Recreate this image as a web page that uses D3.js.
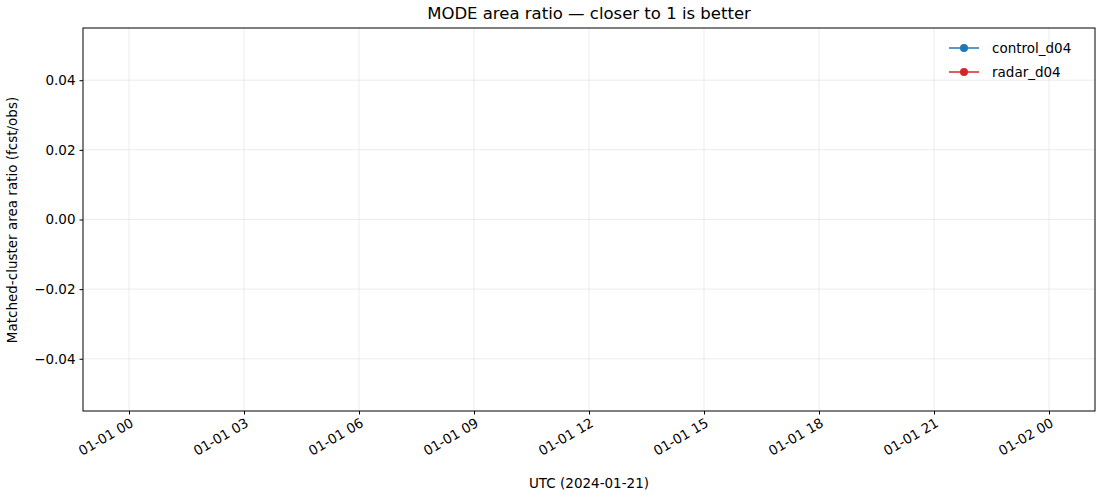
<!DOCTYPE html>
<html><head><meta charset="utf-8">
<script src="https://cdn.jsdelivr.net/npm/d3@7"></script>
<style>body{margin:0;background:#fff}text{font-family:"DejaVu Sans",sans-serif;}</style>
</head><body><svg id="c" width="1100" height="495"></svg>
<script>
const seriesNames = ["control_d04", "radar_d04"];
const seriesColors = ["#1f77b4", "#d62728"];
const controlValues = [];   // no data points in the reference
const radarValues = [];
const yTicks = [-0.04, -0.02, 0.00, 0.02, 0.04];
const xTickHours = [0, 3, 6, 9, 12, 15, 18, 21, 24];
const xTickLabels = ["01-01 00","01-01 03","01-01 06","01-01 09","01-01 12","01-01 15","01-01 18","01-01 21","01-02 00"];

const svg = d3.select("#c");
const L=83,R=1095,T=28,B=411;
const x = d3.scaleLinear().domain([-1.2,25.2]).range([L,R]);
const y = d3.scaleLinear().domain([-0.055,0.055]).range([B,T]);

svg.append("g").selectAll("line").data(xTickHours).join("line")
 .attr("x1",d=>x(d)).attr("x2",d=>x(d)).attr("y1",T).attr("y2",B)
 .attr("stroke","#b0b0b0").attr("stroke-opacity",0.3).attr("stroke-width",0.8);
svg.append("g").selectAll("line").data(yTicks).join("line")
 .attr("y1",d=>y(d)).attr("y2",d=>y(d)).attr("x1",L).attr("x2",R)
 .attr("stroke","#b0b0b0").attr("stroke-opacity",0.3).attr("stroke-width",0.8);

const ya = svg.append("g").attr("transform",`translate(${L},0)`)
 .call(d3.axisLeft(y).tickValues(yTicks).tickFormat(d3.format(".2f")).tickSize(3.5).tickPadding(4));
ya.selectAll("text").attr("font-size",13.5).attr("fill","#000").style("font-family","DejaVu Sans");
const xa = svg.append("g").attr("transform",`translate(0,${B})`)
 .call(d3.axisBottom(x).tickValues(xTickHours).tickFormat((d,i)=>xTickLabels[i]).tickSize(3.5));
xa.selectAll("text").attr("font-size",13.5).attr("fill","#000").style("font-family","DejaVu Sans")
 .attr("text-anchor","end").attr("x",0).attr("y",0).attr("dy","0.75em").attr("transform","translate(0,6) rotate(-30)");
svg.selectAll(".tick line").attr("stroke","#000");
svg.selectAll(".domain").remove();
svg.append("rect").attr("x",L).attr("y",T).attr("width",R-L).attr("height",B-T)
 .attr("fill","none").attr("stroke","#000").attr("stroke-width",1);

const line = d3.line().x(d=>x(d.h)).y(d=>y(d.v));
[controlValues,radarValues].forEach((vals,i)=>{
 svg.append("path").datum(vals).attr("d",line).attr("fill","none").attr("stroke",seriesColors[i]).attr("stroke-width",1.5);
 svg.append("g").selectAll("circle").data(vals).join("circle").attr("cx",d=>x(d.h)).attr("cy",d=>y(d.v)).attr("r",4).attr("fill",seriesColors[i]);
});

svg.append("text").attr("x",(L+R)/2).attr("y",19).attr("text-anchor","middle").attr("font-size",16.5).text("MODE area ratio — closer to 1 is better");
svg.append("text").attr("x",(L+R)/2).attr("y",488).attr("text-anchor","middle").attr("font-size",13.5).text("UTC (2024-01-21)");
svg.append("text").attr("transform","translate(17,220) rotate(-90)").attr("text-anchor","middle").attr("font-size",13.5).text("Matched-cluster area ratio (fcst/obs)");

const lg = svg.append("g").selectAll("g").data(seriesNames).join("g").attr("transform",(d,i)=>`translate(949,${48+i*24})`);
lg.append("line").attr("x1",0).attr("x2",30).attr("stroke",(d,i)=>seriesColors[i]).attr("stroke-width",1.5);
lg.append("circle").attr("cx",15).attr("r",4).attr("fill",(d,i)=>seriesColors[i]);
lg.append("text").attr("x",43).attr("y",5).attr("font-size",13.5).text(d=>d);
</script></body></html>
